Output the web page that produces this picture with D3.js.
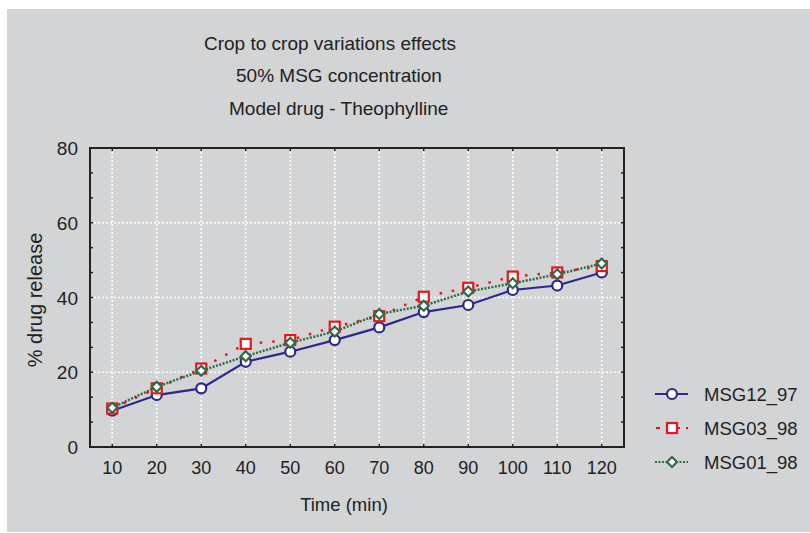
<!DOCTYPE html>
<html><head><meta charset="utf-8">
<script src="https://cdn.jsdelivr.net/npm/d3@7"></script>
<style>html,body{margin:0;padding:0;background:#fff;}svg{display:block;}</style>
</head><body>
<script>
const times = [10,20,30,40,50,60,70,80,90,100,110,120];
const msg12_97 = [9.7,13.9,15.7,22.8,25.5,28.6,32.0,36.1,38.0,42.0,43.2,46.7];
const msg03_98 = [10.3,15.7,21.0,27.6,28.6,32.2,35.0,40.2,42.6,45.6,46.7,48.4];
const msg01_98 = [10.5,16.1,20.4,24.3,27.9,30.9,35.6,37.8,41.6,43.8,46.2,49.1];
const seriesNames = ["MSG12_97","MSG03_98","MSG01_98"];
const titleLines = ["Crop to crop variations effects","50% MSG concentration","Model drug - Theophylline"];
const yTickLabels = [0,20,40,60,80];
const xTickLabels = times;

const W=810,H=533;
const svg=d3.select("body").append("svg").attr("width",W).attr("height",H);
svg.append("rect").attr("x",7).attr("y",9).attr("width",W-7).attr("height",H-10).attr("fill","#d3d4d6");

const L=90,R=624,T=148,B=447;
const x=d3.scaleLinear().domain([5,125]).range([L,R]);
const y=d3.scaleLinear().domain([0,80]).range([B,T]);
const font="Liberation Sans, Arial, sans-serif";

// grid
const g=svg.append("g");
g.selectAll(".vg").data(times).enter().append("line")
 .attr("x1",d=>x(d)).attr("x2",d=>x(d)).attr("y1",T).attr("y2",B)
 .attr("stroke","#fff").attr("stroke-width",1.5).attr("stroke-dasharray","2,2");
g.selectAll(".hg").data([20,40,60]).enter().append("line")
 .attr("x1",L).attr("x2",R).attr("y1",d=>y(d)).attr("y2",d=>y(d))
 .attr("stroke","#fff").attr("stroke-width",1.5).attr("stroke-dasharray","2,2");

// minor y ticks
const yMinor=d3.range(1,12).map(i=>i*20/3);
g.selectAll(".ylt").data(yMinor).enter().append("line")
 .attr("x1",L).attr("x2",L+3).attr("y1",d=>y(d)).attr("y2",d=>y(d)).attr("stroke","#222").attr("stroke-width",1.5);
g.selectAll(".yrt").data(yMinor).enter().append("line")
 .attr("x1",R-3).attr("x2",R).attr("y1",d=>y(d)).attr("y2",d=>y(d)).attr("stroke","#222").attr("stroke-width",1.5);
g.selectAll(".xbt").data(times).enter().append("line")
 .attr("x1",d=>x(d)).attr("x2",d=>x(d)).attr("y1",B).attr("y2",B-3).attr("stroke","#222").attr("stroke-width",1.5);
g.selectAll(".xtt").data(times).enter().append("line")
 .attr("x1",d=>x(d)).attr("x2",d=>x(d)).attr("y1",T).attr("y2",T+3).attr("stroke","#222").attr("stroke-width",1.5);

// frame
svg.append("rect").attr("x",L).attr("y",T).attr("width",R-L).attr("height",B-T)
 .attr("fill","none").attr("stroke","#222").attr("stroke-width",2);

// tick labels
svg.selectAll(".yl").data(yTickLabels).enter().append("text")
 .attr("x",78).attr("y",d=>y(d)+7).attr("text-anchor","end")
 .attr("font-family",font).attr("font-size",19).attr("fill","#222").text(d=>d);
svg.selectAll(".xl").data(xTickLabels).enter().append("text")
 .attr("x",d=>x(d)).attr("y",474).attr("text-anchor","middle")
 .attr("font-family",font).attr("font-size",18).attr("fill","#222").text(d=>d);

// titles
const titleX=[204,236,229], titleY=[50,82,115];
svg.selectAll(".tt").data(titleLines).enter().append("text")
 .attr("x",(d,i)=>titleX[i]).attr("y",(d,i)=>titleY[i])
 .attr("font-family",font).attr("font-size",19).attr("fill","#222").text(d=>d);

svg.append("text").attr("x",344).attr("y",511).attr("text-anchor","middle")
 .attr("font-family",font).attr("font-size",18.5).attr("fill","#222").text("Time (min)");
svg.append("text").attr("transform","translate(42,300) rotate(-90)").attr("text-anchor","middle")
 .attr("font-family",font).attr("font-size",20).attr("fill","#222").text("% drug release");

// series
const styles=[
 {data:msg12_97,color:"#2b2a8c",dash:null,sym:"circle"},
 {data:msg03_98,color:"#e8161c",dash:"2.5,10",sym:"square"},
 {data:msg01_98,color:"#2f6b47",dash:"2,1.5",sym:"diamond"}
];
const line=d3.line().x((d,i)=>x(times[i])).y(d=>y(d));
function drawSym(sel,type,color){
 if(type==="circle") sel.append("circle").attr("r",5).attr("fill","#fff").attr("stroke",color).attr("stroke-width",2.2);
 else if(type==="square") sel.append("rect").attr("x",-5).attr("y",-5).attr("width",10).attr("height",10).attr("fill","#fff").attr("stroke",color).attr("stroke-width",2.2);
 else sel.append("path").attr("d","M0,-5L5,0L0,5L-5,0Z").attr("fill","#fff").attr("stroke",color).attr("stroke-width",2.2);
}
styles.forEach(s=>{
 const p=svg.append("path").datum(s.data).attr("d",line).attr("fill","none")
  .attr("stroke",s.color).attr("stroke-width",s.dash?2.5:2.2);
 if(s.dash) p.attr("stroke-dasharray",s.dash);
 s.data.forEach((v,i)=>{
  const gg=svg.append("g").attr("transform",`translate(${x(times[i])},${y(v)})`);
  drawSym(gg,s.sym,s.color);
 });
});

// legend
const legY=[394,428,462];
styles.forEach((s,i)=>{
 const ln=svg.append("line").attr("x1",655).attr("x2",688).attr("y1",legY[i]).attr("y2",legY[i])
  .attr("stroke",s.color).attr("stroke-width",2.2);
 if(i===1) ln.attr("stroke-dasharray","4,6").attr("stroke-dashoffset",-1);
 if(i===2) ln.attr("stroke-dasharray","2,1.5");
 const gg=svg.append("g").attr("transform",`translate(672,${legY[i]})`);
 drawSym(gg,s.sym,s.color);
 svg.append("text").attr("x",704).attr("y",legY[i]+7).attr("font-family",font).attr("font-size",18.5)
  .attr("fill","#222").text(seriesNames[i]);
});
</script>
</body></html>
